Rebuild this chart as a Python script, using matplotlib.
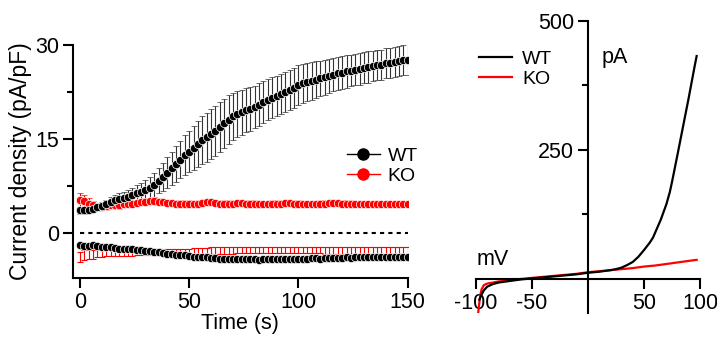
import numpy as np
import matplotlib.pyplot as plt
from matplotlib.lines import Line2D

plt.rcParams['font.family'] = ['Liberation Sans', 'DejaVu Sans']
plt.rcParams['axes.unicode_minus'] = False

# time course, one point every 2 s
t = np.arange(0, 151, 2)

wt_up = [3.6, 3.6, 3.7, 3.9, 4.1, 4.3, 4.6, 4.9, 5.2, 5.4,
         5.6, 5.8, 6.0, 6.3, 6.6, 6.9, 7.2, 7.7, 8.3, 8.9,
         9.6, 10.3, 11.0, 11.7, 12.4, 13.0, 13.6, 14.2, 14.8, 15.3,
         15.8, 16.3, 16.9, 17.5, 18.1, 18.6, 19.0, 19.3, 19.6, 19.8,
         20.1, 20.5, 20.9, 21.3, 21.6, 21.9, 22.2, 22.5, 22.8, 23.2,
         23.6, 23.9, 24.1, 24.3, 24.5, 24.7, 24.9, 25.1, 25.3, 25.5,
         25.6, 25.8, 25.9, 26.1, 26.2, 26.4, 26.5, 26.6, 26.8, 26.9,
         27.1, 27.2, 27.3, 27.5, 27.6, 27.7]
wt_up_err = [0.5, 0.5, 0.5, 0.6, 0.6, 0.7, 0.7, 0.8, 0.9, 0.9,
             1.0, 1.1, 1.2, 1.3, 1.4, 1.6, 1.7, 1.9, 2.0, 2.2,
             2.5, 2.7, 2.9, 3.0, 3.2, 3.3, 3.5, 3.6, 3.8, 3.9,
             4.0, 4.0, 4.0, 3.9, 3.9, 3.8, 3.7, 3.6, 3.5, 3.5,
             3.4, 3.4, 3.3, 3.3, 3.3, 3.2, 3.2, 3.2, 3.2, 3.2,
             3.2, 3.1, 3.0, 3.0, 2.9, 2.8, 2.8, 2.7, 2.7, 2.6,
             2.6, 2.6, 2.5, 2.5, 2.5, 2.5, 2.5, 2.4, 2.4, 2.4,
             2.4, 2.4, 2.4, 2.4, 2.4, 2.4]
wt_dn = [-2.0, -2.1, -2.1, -2.0, -2.1, -2.2, -2.3, -2.3, -2.4, -2.5,
         -2.5, -2.6, -2.6, -2.7, -2.8, -2.9, -2.9, -3.0, -3.1, -3.2,
         -3.3, -3.4, -3.5, -3.6, -3.6, -3.7, -3.8, -3.8, -3.9, -3.9,
         -4.0, -4.0, -4.1, -4.1, -4.1, -4.2, -4.2, -4.2, -4.2, -4.2,
         -4.2, -4.3, -4.2, -4.2, -4.1, -4.2, -4.2, -4.1, -4.1, -4.1,
         -4.1, -4.1, -4.1, -4.0, -4.0, -4.1, -4.0, -4.0, -4.0, -4.0,
         -4.0, -3.9, -4.0, -3.9, -3.9, -3.9, -3.9, -3.9, -3.9, -3.9,
         -3.8, -3.9, -3.8, -3.8, -3.8, -3.8]
ko_up = [5.3, 5.1, 4.7, 4.4, 4.2, 4.2, 4.3, 4.4, 4.5, 4.5,
         4.6, 4.6, 4.7, 4.8, 4.9, 5.0, 5.1, 5.1, 5.0, 4.9,
         4.8, 4.8, 4.7, 4.7, 4.7, 4.7, 4.6, 4.7, 4.8, 4.9,
         4.9, 4.8, 4.7, 4.7, 4.7, 4.7, 4.8, 4.8, 4.7, 4.7,
         4.7, 4.6, 4.6, 4.6, 4.7, 4.7, 4.7, 4.8, 4.8, 4.7,
         4.7, 4.6, 4.6, 4.6, 4.6, 4.7, 4.7, 4.8, 4.8, 4.8,
         4.7, 4.7, 4.7, 4.6, 4.6, 4.6, 4.6, 4.6, 4.6, 4.6,
         4.6, 4.6, 4.6, 4.6, 4.6, 4.6]
ko_up_err = [1.1, 0.9, 0.8, 0.7, 0.6, 0.6, 0.6, 0.6, 0.6, 0.6] + [0.5] * 66
ko_dn = [-3.8, -3.6, -3.5, -3.4, -3.3, -3.3, -3.2, -3.2, -3.2, -3.2,
         -3.2, -3.2, -3.2, -3.1, -3.1, -3.1, -3.1, -3.1, -3.1, -3.1,
         -3.0, -3.0, -3.0, -3.0, -3.0, -3.0, -2.9, -2.9, -2.9, -2.9,
         -2.8, -2.8, -2.8, -2.8, -2.8, -2.8, -2.7, -2.7, -2.7, -2.7,
         -2.7, -2.7, -2.7, -2.7, -2.7, -2.7, -2.7, -2.7, -2.7, -2.7,
         -2.7, -2.7, -2.7, -2.7, -2.7, -2.7, -2.8, -2.8, -2.8, -2.8,
         -2.8, -2.8, -2.8, -2.8, -2.8, -2.8, -2.8, -2.8, -2.8, -2.8,
         -2.8, -2.8, -2.8, -2.8, -2.8, -2.8]
ko_dn_err = [0.8, 0.8, 0.7, 0.7, 0.6, 0.6] + [0.5] * 70

# I-V ramps
v_wt = [-97, -95, -93, -90, -85, -80, -70, -60, -50, -40, -30, -20, -10, 0,
        10, 20, 25, 30, 35, 40, 45, 50, 55, 58, 60, 65, 70, 73, 75, 80, 85, 90, 95, 97]
i_wt = [-40, -30, -22, -15, -10, -7, -4, -1, 1, 3, 5, 7, 9, 12,
        14, 17, 19, 22, 27, 33, 43, 56, 70, 80, 90, 115, 145, 168, 188, 242, 297, 352, 410, 432]
v_ko = [-98, -97, -96, -95, -93, -90, -80, -70, -60, -50, -40, -30, -20, -10, 0,
        10, 20, 30, 40, 50, 60, 70, 80, 90, 97]
i_ko = [-65, -45, -30, -20, -12, -9, -5, -2, 0, 2, 4, 6, 8, 10, 13,
        15, 17, 19, 21, 24, 26, 29, 32, 35, 37]

red = '#ff0000'
fs = 15.5

fig = plt.figure(figsize=(7.17, 3.38), dpi=100)

# left panel
ax = fig.add_axes([0.1014, 0.1775, 0.4672, 0.689])
ax.plot([0, 150], [0, 0], color='black', lw=1.5, ls=(0, (2, 2)))
ax.errorbar(t, ko_dn, yerr=ko_dn_err, fmt='none', ecolor=red, elinewidth=0.8, capsize=2.5, capthick=0.8)
ax.errorbar(t, ko_up, yerr=ko_up_err, fmt='o-', color=red, ms=6, mec='white', mew=0.5,
            lw=1, ecolor=red, elinewidth=0.8, capsize=2.5, capthick=0.8)
ax.errorbar(t, wt_up, yerr=wt_up_err, fmt='o-', color='black', ms=6, mec='white', mew=0.5,
            lw=1, ecolor='#333333', elinewidth=0.8, capsize=2.5, capthick=0.8)
ax.errorbar(t, wt_dn, yerr=0.2, fmt='o-', color='black', ms=6, mec='white', mew=0.5,
            lw=1, ecolor='#333333', elinewidth=0.8, capsize=2.5, capthick=0.8)

ax.set_xlim(-3.3, 150)
ax.set_ylim(-7.2, 30)
ax.set_xticks([0, 50, 100, 150])
ax.set_yticks([0, 15, 30])
ax.set_yticks([7.5, 22.5], minor=True)
for s in ['top', 'right']:
    ax.spines[s].set_visible(False)
for s in ['left', 'bottom']:
    ax.spines[s].set_linewidth(1.5)
ax.tick_params(which='major', direction='out', length=7, width=1.5, labelsize=fs, pad=3)
ax.tick_params(which='minor', direction='out', length=4, width=1.5)
ax.set_xlabel('Time (s)', fontsize=fs, labelpad=0)
ax.set_ylabel('Current density (pA/pF)', fontsize=16.5, labelpad=2)

h_wt = Line2D([], [], color='black', lw=1, marker='o', ms=8, mec='black')
h_ko = Line2D([], [], color=red, lw=1, marker='o', ms=8, mec=red)
ax.legend([h_wt, h_ko], ['WT', 'KO'], loc='upper left', bbox_to_anchor=(0.795, 0.595),
          frameon=False, fontsize=14, handlelength=1.7, handletextpad=0.4,
          labelspacing=0.12, borderaxespad=0)

# right panel
ax2 = fig.add_axes([0.6639, 0.074, 0.3124, 0.8639])
ko_line, = ax2.plot(v_ko, i_ko, color=red, lw=1.6)
wt_line, = ax2.plot(v_wt, i_wt, color='black', lw=1.6)
ax2.set_xlim(-100, 100)
ax2.set_ylim(-66, 500)
ax2.spines['left'].set_position(('data', 0))
ax2.spines['bottom'].set_position(('data', 0))
for s in ['top', 'right']:
    ax2.spines[s].set_visible(False)
for s in ['left', 'bottom']:
    ax2.spines[s].set_linewidth(1.5)
ax2.set_xticks([-100, -50, 50, 100])
ax2.set_yticks([250, 500])
ax2.set_yticks([125, 375], minor=True)
ax2.tick_params(which='major', direction='out', length=7, width=1.5, labelsize=fs, pad=3)
ax2.tick_params(which='minor', direction='out', length=4, width=1.5)
ax2.text(-85, 37, 'mV', fontsize=fs, ha='center', va='center')
ax2.text(24, 430, 'pA', fontsize=fs, ha='center', va='center')
ax2.legend([wt_line, ko_line], ['WT', 'KO'], loc='upper left',
           bbox_to_anchor=(-0.02, 0.925), frameon=False, fontsize=14, handlelength=1.7,
           handletextpad=0.5, labelspacing=0.12, borderaxespad=0)

fig.savefig('out.png', dpi=100)
